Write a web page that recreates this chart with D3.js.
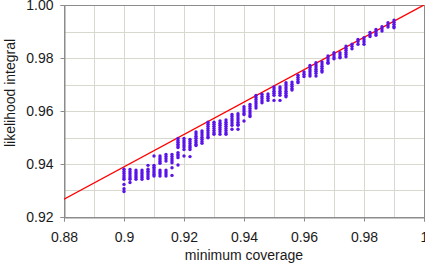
<!DOCTYPE html>
<html>
<head>
<meta charset="utf-8">
<script src="https://cdn.jsdelivr.net/npm/d3@7"></script>
<style>
  body { margin: 0; background: #fff; }
  svg { display: block; font-family: "Liberation Sans", Arial, sans-serif; }
</style>
</head>
<body>
<script>
// minimum coverage (x) for each column of points
var coverage = [0.900, 0.902, 0.904, 0.906, 0.908, 0.910, 0.912, 0.914, 0.916, 0.918,
                0.920, 0.922, 0.924, 0.926, 0.928, 0.930, 0.932, 0.934, 0.936, 0.938,
                0.940, 0.942, 0.944, 0.946, 0.948, 0.950, 0.952, 0.954, 0.956, 0.958,
                0.960, 0.962, 0.964, 0.966, 0.968, 0.970, 0.972, 0.974, 0.976, 0.978,
                0.980, 0.982, 0.984, 0.986, 0.988, 0.990];

// likelihood integral values, one list per column
var likelihood = [
  [0.9380, 0.9372, 0.9364, 0.9356, 0.9348, 0.9342, 0.9323, 0.9307, 0.9296],
  [0.9379, 0.9371, 0.9363, 0.9355, 0.9347, 0.9342, 0.9330],
  [0.9377, 0.9370, 0.9363, 0.9356, 0.9349, 0.9342],
  [0.9377, 0.9370, 0.9363, 0.9356, 0.9349, 0.9342],
  [0.9395, 0.9380, 0.9373, 0.9366, 0.9359, 0.9352, 0.9345],
  [0.9430, 0.9395, 0.9388, 0.9381, 0.9374, 0.9367, 0.9360, 0.9355],
  [0.9430, 0.9423, 0.9416, 0.9409, 0.9403, 0.9377, 0.9370, 0.9363, 0.9355],
  [0.9436, 0.9428, 0.9420, 0.9411, 0.9377, 0.9370, 0.9362, 0.9355],
  [0.9436, 0.9428, 0.9420, 0.9412, 0.9405, 0.9386, 0.9357],
  [0.9496, 0.9489, 0.9482, 0.9475, 0.9468, 0.9462, 0.9443, 0.9436, 0.9430, 0.9424, 0.9396],
  [0.9496, 0.9488, 0.9480, 0.9472, 0.9464, 0.9455, 0.9430],
  [0.9493, 0.9485, 0.9477, 0.9469, 0.9462, 0.9455, 0.9428],
  [0.9521, 0.9513, 0.9505, 0.9497, 0.9489, 0.9481, 0.9474, 0.9470],
  [0.9525, 0.9517, 0.9509, 0.9501, 0.9493, 0.9485, 0.9478],
  [0.9558, 0.9550, 0.9542, 0.9534, 0.9526, 0.9518, 0.9510, 0.9502, 0.9499],
  [0.9558, 0.9550, 0.9542, 0.9534, 0.9526, 0.9518, 0.9512],
  [0.9562, 0.9554, 0.9546, 0.9538, 0.9530, 0.9522, 0.9512],
  [0.9566, 0.9558, 0.9550, 0.9542, 0.9534, 0.9526, 0.9518, 0.9512],
  [0.9587, 0.9579, 0.9571, 0.9563, 0.9555, 0.9546, 0.9531],
  [0.9590, 0.9582, 0.9574, 0.9566, 0.9558, 0.9550, 0.9546, 0.9531],
  [0.9616, 0.9608, 0.9600, 0.9592, 0.9587, 0.9562],
  [0.9625, 0.9617, 0.9609, 0.9601, 0.9593, 0.9585, 0.9579],
  [0.9659, 0.9651, 0.9643, 0.9635, 0.9627, 0.9619, 0.9611],
  [0.9663, 0.9655, 0.9647, 0.9639, 0.9631],
  [0.9664, 0.9656, 0.9648, 0.9640],
  [0.9691, 0.9683, 0.9675, 0.9667, 0.9659, 0.9640],
  [0.9691, 0.9683, 0.9675, 0.9667, 0.9659, 0.9640],
  [0.9707, 0.9699, 0.9691, 0.9683, 0.9675, 0.9667, 0.9659, 0.9654],
  [0.9709, 0.9701, 0.9693, 0.9685, 0.9679],
  [0.9735, 0.9727, 0.9719, 0.9711, 0.9707],
  [0.9747, 0.9739, 0.9730],
  [0.9772, 0.9764, 0.9756, 0.9748, 0.9740, 0.9732],
  [0.9782, 0.9774, 0.9766, 0.9758, 0.9750, 0.9742, 0.9732],
  [0.9785, 0.9777, 0.9769, 0.9761, 0.9753, 0.9747],
  [0.9808, 0.9800, 0.9792, 0.9784, 0.9780],
  [0.9820, 0.9812, 0.9804, 0.9797],
  [0.9820, 0.9812, 0.9804, 0.9801],
  [0.9845, 0.9837, 0.9829, 0.9821, 0.9813, 0.9805],
  [0.9852, 0.9844, 0.9835],
  [0.9870, 0.9862, 0.9852],
  [0.9877, 0.9869, 0.9861, 0.9852],
  [0.9896, 0.9888, 0.9881],
  [0.9908, 0.9900, 0.9892, 0.9886],
  [0.9918, 0.9910, 0.9902],
  [0.9933, 0.9925, 0.9917],
  [0.9943, 0.9935, 0.9927, 0.9919, 0.9914]
];

// red reference line end points
var lineX = [0.88, 1.0];
var lineY = [0.9267, 1.0];

var xTicks = [0.88, 0.90, 0.92, 0.94, 0.96, 0.98, 1.00];
var xTickLabels = ["0.88", "0.9", "0.92", "0.94", "0.96", "0.98", "1"];
var yTicks = [0.92, 0.94, 0.96, 0.98, 1.00];
var yTickLabels = ["0.92", "0.94", "0.96", "0.98", "1.00"];
var xGrid = d3.range(0, 13).map(function(i) { return +(0.88 + i * 0.01).toFixed(2); });
var yGrid = d3.range(0, 9).map(function(i) { return +(0.92 + i * 0.01).toFixed(2); });

var width = 425,
    height = 269,
    plot = {left: 64, right: 424, top: 5, bottom: 217};

var svg = d3.select("body").append("svg")
    .attr("width", width)
    .attr("height", height);

var x = d3.scaleLinear().domain([0.88, 1.0]).range([plot.left, plot.right]);
var y = d3.scaleLinear().domain([0.92, 1.0]).range([plot.bottom, plot.top]);

// grid
svg.append("g").selectAll("line")
    .data(xGrid)
  .enter().append("line")
    .attr("x1", function(d) { return Math.round(x(d)) + 0.5; })
    .attr("x2", function(d) { return Math.round(x(d)) + 0.5; })
    .attr("y1", plot.top).attr("y2", plot.bottom)
    .style("stroke", "#d9d8cf");
svg.append("g").selectAll("line")
    .data(yGrid)
  .enter().append("line")
    .attr("y1", function(d) { return Math.round(y(d)) + 0.5; })
    .attr("y2", function(d) { return Math.round(y(d)) + 0.5; })
    .attr("x1", plot.left).attr("x2", plot.right)
    .style("stroke", "#d9d8cf");

// frame
svg.append("rect")
    .attr("x", plot.left + 0.5).attr("y", plot.top + 0.5)
    .attr("width", plot.right - plot.left).attr("height", plot.bottom - plot.top)
    .style("fill", "none")
    .style("stroke", "#8c8c8c");

// axes
var xAxis = svg.append("g")
    .attr("transform", "translate(0," + (plot.bottom + 0.5) + ")")
    .call(d3.axisBottom(x).tickValues(xTicks).tickSize(4).tickPadding(11)
      .tickFormat(function(d, i) { return xTickLabels[i]; }));
var yAxis = svg.append("g")
    .attr("transform", "translate(" + (plot.left + 0.5) + ",0)")
    .call(d3.axisLeft(y).tickValues(yTicks).tickSize(4).tickPadding(7)
      .tickFormat(function(d, i) { return yTickLabels[i]; }));

[xAxis, yAxis].forEach(function(a) {
  a.select(".domain").style("stroke", "#8c8c8c");
  a.selectAll(".tick line").style("stroke", "#8c8c8c");
  a.selectAll(".tick text")
    .style("font-family", "'Liberation Sans', Arial, sans-serif")
    .style("font-size", "14px")
    .style("fill", "#1a1a1a");
});

// clip to plot
svg.append("clipPath").attr("id", "plotclip")
  .append("rect").attr("x", plot.left).attr("y", plot.top)
    .attr("width", plot.right - plot.left).attr("height", plot.bottom - plot.top);

// red line
var line = d3.line()
    .x(function(d, i) { return x(lineX[i]); })
    .y(function(d, i) { return y(lineY[i]); });
svg.append("path")
    .datum(lineX)
    .attr("d", line)
    .attr("clip-path", "url(#plotclip)")
    .style("fill", "none")
    .style("stroke", "#ff0000")
    .style("stroke-width", 1.4);

// points
var points = [];
coverage.forEach(function(c, i) {
  likelihood[i].forEach(function(v) { points.push({x: c, y: v}); });
});
svg.append("g").selectAll("circle")
    .data(points)
  .enter().append("circle")
    .attr("cx", function(d) { return x(d.x); })
    .attr("cy", function(d) { return y(d.y); })
    .attr("r", 1.7)
    .style("fill", "#5a14e6");

// axis titles
svg.append("text")
    .attr("x", (plot.left + plot.right) / 2)
    .attr("y", 260)
    .attr("text-anchor", "middle")
    .style("font-size", "14px")
    .style("fill", "#1a1a1a")
    .text("minimum coverage");
svg.append("text")
    .attr("transform", "translate(15,93) rotate(-90)")
    .attr("text-anchor", "middle")
    .style("font-size", "14px")
    .style("fill", "#1a1a1a")
    .text("likelihood integral");
</script>
</body>
</html>
